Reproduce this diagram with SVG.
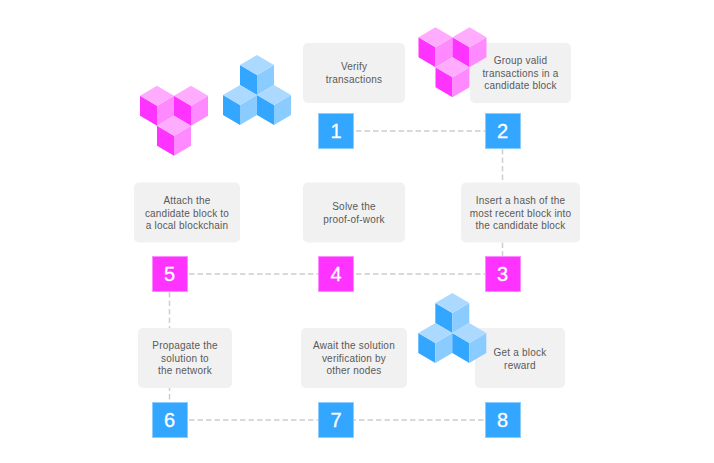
<svg xmlns="http://www.w3.org/2000/svg" xmlns:xlink="http://www.w3.org/1999/xlink" width="714" height="463" viewBox="0 0 714 463">
<style>
.box{fill:#f1f1f1}
.t{font-family:"Liberation Sans",Arial,sans-serif;font-size:10px;fill:#595959;text-anchor:middle;letter-spacing:.2px}
.n{font-family:"Liberation Sans",Arial,sans-serif;font-size:20px;fill:#fff;stroke:#fff;stroke-width:.3;text-anchor:middle}
.blue{fill:#33a6ff;stroke:#8cccff;stroke-width:1}
.pink{fill:#ff33ff;stroke:#ff8cff;stroke-width:1}
.c{stroke:#cdcdcd;stroke-width:1.500;stroke-dasharray:5.500 3;fill:none}
</style>
<defs>
<g id="cb"><path d="M0 0L17 10V30L0 20Z" transform="translate(-17 10)" fill="#33a6ff"/><path d="M0 20L17 10V30L0 40Z" fill="#8accff"/><path d="M0 0L17 10L0 20L-17 10Z" fill="#acd9ff"/></g>
<g id="cp"><path d="M0 0L17 10V30L0 20Z" transform="translate(-17 10)" fill="#ff33ff"/><path d="M0 20L17 10V30L0 40Z" fill="#ff8aff"/><path d="M0 0L17 10L0 20L-17 10Z" fill="#ffacff"/></g>
<g id="gp"><use href="#cp" x="-17" y="0"/><use href="#cp" x="17" y="0"/><use href="#cp" x="0" y="30"/></g>
<g id="gb"><use href="#cb" x="0" y="0"/><use href="#cb" x="-17" y="30"/><use href="#cb" x="17" y="30"/></g>
</defs>
<g id="connectors">
<path class="c" d="M356 131H485"/>
<path class="c" d="M502.500 149V256"/>
<path class="c" d="M189 274H318"/>
<path class="c" d="M356 274H485"/>
<path class="c" d="M169.500 292V402"/>
<path class="c" d="M189 420H485"/>
</g>
<g id="node-1"><rect class="box" x="303" y="43" width="102" height="60" rx="5"/><text class="t" x="354" y="70">Verify</text><text class="t" x="354" y="83">transactions</text><rect class="blue" x="318.500" y="113.500" width="35" height="35"/><text class="n" x="336" y="138">1</text></g>
<g id="node-2"><rect class="box" x="470" y="43" width="101" height="60" rx="5"/><text class="t" x="520.500" y="64">Group valid</text><text class="t" x="520.500" y="77">transactions in a</text><text class="t" x="520.500" y="89">candidate block</text><rect class="blue" x="485.500" y="113.500" width="35" height="35"/><text class="n" x="502.500" y="138">2</text></g>
<g id="node-3"><rect class="box" x="461" y="182.500" width="119" height="60" rx="5"/><text class="t" x="520.500" y="204">Insert a hash of the</text><text class="t" x="520.500" y="217">most recent block into</text><text class="t" x="520.500" y="229">the candidate block</text><rect class="pink" x="485.500" y="256.500" width="35" height="35"/><text class="n" x="502.500" y="281">3</text></g>
<g id="node-4"><rect class="box" x="303" y="182.500" width="102" height="60" rx="5"/><text class="t" x="354" y="210">Solve the</text><text class="t" x="354" y="223">proof-of-work</text><rect class="pink" x="318.500" y="256.500" width="35" height="35"/><text class="n" x="336" y="281">4</text></g>
<g id="node-5"><rect class="box" x="134" y="182.500" width="106" height="60" rx="5"/><text class="t" x="187" y="204">Attach the</text><text class="t" x="187" y="217">candidate block to</text><text class="t" x="187" y="229">a local blockchain</text><rect class="pink" x="152.500" y="256.500" width="35" height="35"/><text class="n" x="169.500" y="281">5</text></g>
<g id="node-6"><rect class="box" x="138" y="328" width="94" height="60" rx="5"/><text class="t" x="185" y="349">Propagate the</text><text class="t" x="185" y="362">solution to</text><text class="t" x="185" y="374">the network</text><rect class="blue" x="152.500" y="402.500" width="35" height="35"/><text class="n" x="169.500" y="427">6</text></g>
<g id="node-7"><rect class="box" x="301" y="328" width="106" height="60" rx="5"/><text class="t" x="354" y="349">Await the solution</text><text class="t" x="354" y="362">verification by</text><text class="t" x="354" y="374">other nodes</text><rect class="blue" x="318.500" y="402.500" width="35" height="35"/><text class="n" x="336" y="427">7</text></g>
<g id="node-8"><rect class="box" x="475" y="328" width="90" height="60" rx="5"/><text class="t" x="520" y="356">Get a block</text><text class="t" x="520" y="369">reward</text><rect class="blue" x="485.500" y="402.500" width="35" height="35"/><text class="n" x="502.500" y="427">8</text></g>
<g id="cubes-pink-1"><use href="#gp" x="174" y="85.700"/></g>
<g id="cubes-blue-1"><use href="#gb" x="257" y="55"/></g>
<g id="cubes-pink-2"><use href="#gp" x="452.500" y="27.300"/></g>
<g id="cubes-blue-2"><use href="#gb" x="452.300" y="293"/></g>
</svg>
